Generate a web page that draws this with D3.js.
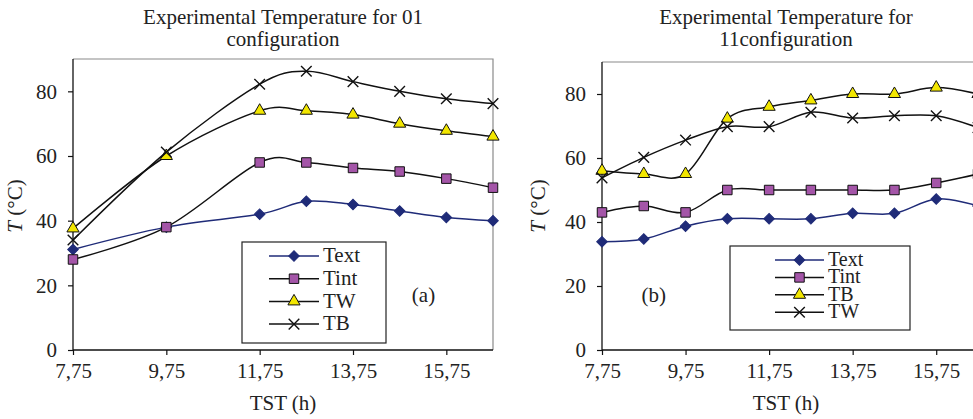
<!DOCTYPE html>
<html>
<head>
<meta charset="utf-8">
<script src="https://cdn.jsdelivr.net/npm/d3@7.9.0/dist/d3.min.js"></script>
<style>
  html, body { margin: 0; padding: 0; background: #fff; }
  svg { display: block; font-family: "Liberation Serif", "Times New Roman", serif; }
</style>
</head>
<body>
<svg id="chart" width="973" height="419"></svg>
<script>
// panel (a): 01 configuration
const hoursA = [7.75, 9.75, 11.75, 12.75, 13.75, 14.75, 15.75, 16.75];
const textA = [31.1, 38, 42, 46, 45, 43, 41, 40];
const tintA = [28, 38, 58, 58, 56.3, 55.2, 53, 50.2];
const twA = [37.6, 60, 74, 74, 72.8, 70, 67.8, 66];
const tbA = [34, 61.2, 82.2, 86.2, 83, 80, 77.7, 76.2];

// panel (b): 11 configuration
const hoursB = [7.75, 8.75, 9.75, 10.75, 11.75, 12.75, 13.75, 14.75, 15.75, 16.75];
const textB = [33.8, 34.7, 38.7, 41, 41, 41, 42.7, 42.7, 47.2, 45];
const tintB = [43, 45, 43, 50, 50, 50, 50, 50, 52.2, 55];
const tbB = [56, 55, 55, 72.3, 76, 78, 80, 80, 82, 80];
const twB = [53.8, 60.2, 65.6, 69.8, 69.8, 74.3, 72.5, 73.2, 73.2, 69.5];

const xTicks = [7.75, 9.75, 11.75, 13.75, 15.75];
const yTicks = [0, 20, 40, 60, 80];

const NAVY = '#1f2b78';
const styles = {
  diamond: { symbol: d3.symbolSquare, size: 56, rot: 45, fill: NAVY, stroke: NAVY, line: NAVY },
  square: { symbol: d3.symbolSquare, size: 90, rot: 0, fill: '#a455a8', stroke: '#111', line: '#111' },
  triangle: { symbol: d3.symbolTriangle, size: 64, rot: 0, fill: '#f2e600', stroke: '#111', line: '#111' },
  cross: { symbol: d3.symbolTimes, size: 75, rot: 0, fill: 'none', stroke: '#111', line: '#111' }
};

const svg = d3.select('#chart');
svg.append('rect').attr('width', 973).attr('height', 419).attr('fill', '#fff');

const fmt = d => String(d).replace('.', ',');

function drawPanel(opt) {
  const x = d3.scaleLinear().domain([7.75, 16.75]).range([opt.left, opt.right]);
  const y = d3.scaleLinear().domain([0, 90]).range([350, opt.top]);
  const g = svg.append('g');

  // title
  const t = g.append('text')
    .attr('text-anchor', 'middle')
    .attr('font-size', 21)
    .attr('fill', '#222');
  opt.title.forEach((s, i) => {
    t.append('tspan').attr('x', opt.titleX).attr('y', 24 + i * 21.5).text(s);
  });

  // frame (top/right in grey)
  g.append('path')
    .attr('d', `M${opt.left},${opt.top}H${opt.right}V350`)
    .attr('fill', 'none').attr('stroke', '#8a8a8a').attr('stroke-width', 1.2);

  const xAxis = g.append('g')
    .attr('transform', 'translate(0,350)')
    .call(d3.axisBottom(x).tickValues(xTicks).tickFormat(fmt).tickSize(5).tickPadding(8));
  const yAxis = g.append('g')
    .attr('transform', `translate(${opt.left},0)`)
    .call(d3.axisLeft(y).tickValues(yTicks).tickSize(5).tickPadding(11));
  [xAxis, yAxis].forEach(a => {
    a.attr('font-family', null).attr('font-size', null);
    a.select('.domain').attr('stroke', '#111').attr('stroke-width', 1.3);
    a.selectAll('.tick line').attr('stroke', '#111').attr('stroke-width', 1.2);
    a.selectAll('.tick text').attr('font-size', 21).attr('fill', '#222');
  });
  xAxis.select('.domain').attr('d', `M${opt.left},0H${opt.right}`);
  yAxis.select('.domain').attr('d', `M0,${opt.top}V350`);

  // axis labels
  g.append('text')
    .attr('x', opt.titleX).attr('y', 410)
    .attr('text-anchor', 'middle').attr('font-size', 21).attr('fill', '#222')
    .text('TST (h)');
  const yl = g.append('text')
    .attr('transform', `translate(${opt.ylabX},206) rotate(-90)`)
    .attr('text-anchor', 'middle').attr('font-size', 21).attr('fill', '#222');
  yl.append('tspan').attr('font-style', 'italic').text('T');
  yl.append('tspan').text(' (°C)');

  // series
  const line = d3.line()
    .x(d => x(d[0])).y(d => y(d[1]))
    .curve(d3.curveCardinal.tension(0));
  opt.series.forEach(s => {
    const st = styles[s.marker];
    const pts = opt.hours.map((h, i) => [h, s.values[i]]);
    g.append('path').datum(pts)
      .attr('d', line)
      .attr('fill', 'none').attr('stroke', st.line).attr('stroke-width', 1.5);
    g.append('g').selectAll('path').data(pts).join('path')
      .attr('transform', d => `translate(${x(d[0])},${y(d[1])}) rotate(${st.rot})`)
      .attr('d', d3.symbol(st.symbol, st.size))
      .attr('fill', st.fill).attr('stroke', st.stroke)
      .attr('stroke-width', s.marker === 'cross' ? 1.4 : 1);
  });

  // legend
  const L = opt.legend;
  g.append('rect')
    .attr('x', L.x).attr('y', L.y).attr('width', L.w).attr('height', L.h)
    .attr('fill', '#fff').attr('stroke', '#222').attr('stroke-width', 1.2);
  opt.series.forEach((s, i) => {
    const st = styles[s.marker];
    const cy = L.y0 + i * L.step;
    g.append('line')
      .attr('x1', L.lx0).attr('x2', L.lx1).attr('y1', cy).attr('y2', cy)
      .attr('stroke', st.line).attr('stroke-width', 1.5);
    g.append('path')
      .attr('transform', `translate(${(L.lx0 + L.lx1) / 2},${cy}) rotate(${st.rot})`)
      .attr('d', d3.symbol(st.symbol, st.size))
      .attr('fill', st.fill).attr('stroke', st.stroke)
      .attr('stroke-width', s.marker === 'cross' ? 1.4 : 1);
    g.append('text')
      .attr('x', L.lx1 + 4).attr('y', cy).attr('dy', '0.3em')
      .attr('font-size', L.fs).attr('fill', '#222')
      .text(s.name);
  });

  g.append('text')
    .attr('x', opt.tag[0]).attr('y', opt.tag[1]).attr('dy', '0.35em')
    .attr('text-anchor', 'middle').attr('font-size', 21).attr('fill', '#222')
    .text(opt.tag[2]);
}

drawPanel({
  left: 73, right: 493, top: 59, titleX: 283, ylabX: 22,
  title: ['Experimental Temperature for 01', 'configuration'],
  hours: hoursA,
  series: [
    { name: 'Text', values: textA, marker: 'diamond' },
    { name: 'Tint', values: tintA, marker: 'square' },
    { name: 'TW', values: twA, marker: 'triangle' },
    { name: 'TB', values: tbA, marker: 'cross' }
  ],
  legend: { x: 242, y: 242, w: 144, h: 101, y0: 256, step: 22.7, lx0: 269, lx1: 319, fs: 21 },
  tag: [423.5, 295, '(a)']
});

drawPanel({
  left: 602, right: 978, top: 62, titleX: 786, ylabX: 545,
  title: ['Experimental Temperature for', '11configuration'],
  hours: hoursB,
  series: [
    { name: 'Text', values: textB, marker: 'diamond' },
    { name: 'Tint', values: tintB, marker: 'square' },
    { name: 'TB', values: tbB, marker: 'triangle' },
    { name: 'TW', values: twB, marker: 'cross' }
  ],
  legend: { x: 730, y: 246, w: 180, h: 84, y0: 260, step: 17.4, lx0: 775, lx1: 824, fs: 20 },
  tag: [653.7, 295, '(b)']
});
</script>
</body>
</html>
